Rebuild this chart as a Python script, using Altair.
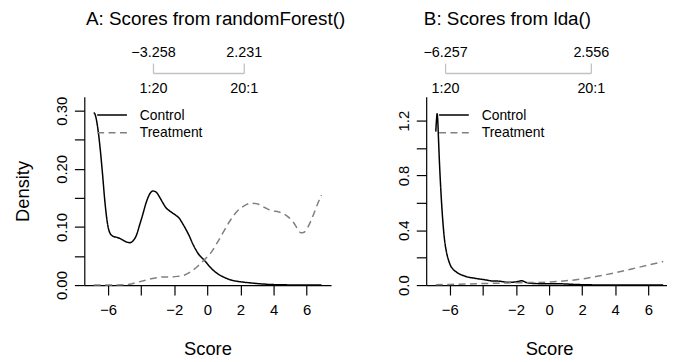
import altair as alt
import pandas as pd

FONT = "Liberation Sans, Arial, Helvetica, sans-serif"

# ---------------- data ----------------
groups = ["Control", "Treatment"]
titles = ["A: Scores from randomForest()", "B: Scores from lda()"]
x_ticks = [-6, -4, -2, 0, 2, 4, 6]
a_y_ticks = [0.0, 0.05, 0.10, 0.15, 0.20, 0.25, 0.30]
b_y_ticks = [0.0, 0.2, 0.4, 0.6, 0.8, 1.0, 1.2]

# Panel A: randomForest scores
a_ctrl_x = [-6.87, -6.78, -6.65, -6.50, -6.35, -6.20, -6.05, -5.90, -5.70, -5.45,
            -5.20, -4.95, -4.70, -4.50, -4.30, -4.10, -3.90, -3.70, -3.50, -3.30,
            -3.10, -2.90, -2.70, -2.50, -2.30, -2.10, -1.90, -1.70, -1.50, -1.30,
            -1.10, -0.90, -0.70, -0.50, -0.30, -0.10, 0.10, 0.30, 0.60, 0.90,
            1.30, 1.70, 2.20, 2.70, 3.30, 4.00, 5.00, 6.00, 6.90]
a_ctrl_y = [0.297, 0.293, 0.275, 0.240, 0.195, 0.145, 0.108, 0.090, 0.084, 0.082,
            0.079, 0.075, 0.073, 0.076, 0.085, 0.103, 0.122, 0.142, 0.156, 0.162,
            0.160, 0.152, 0.142, 0.133, 0.128, 0.124, 0.120, 0.115, 0.106, 0.096,
            0.085, 0.072, 0.061, 0.052, 0.046, 0.040, 0.033, 0.027, 0.020, 0.015,
            0.010, 0.007, 0.005, 0.0035, 0.002, 0.0008, 0.0003, 0.0001, 0.0]
a_trt_x = [-6.87, -5.80, -5.00, -4.60, -4.20, -3.80, -3.40, -3.00, -2.60, -2.20,
           -1.80, -1.40, -1.00, -0.60, -0.20, 0.20, 0.60, 1.00, 1.40, 1.80,
           2.20, 2.70, 3.10, 3.50, 3.90, 4.30, 4.60, 4.90, 5.20, 5.45,
           5.65, 5.85, 6.10, 6.40, 6.70, 6.90]
a_trt_y = [0.0, 0.0, 0.0005, 0.002, 0.005, 0.008, 0.011, 0.013, 0.014, 0.014,
           0.015, 0.017, 0.023, 0.032, 0.043, 0.055, 0.073, 0.093, 0.112, 0.127,
           0.136, 0.141, 0.139, 0.133, 0.128, 0.126, 0.123, 0.117, 0.108, 0.097,
           0.090, 0.091, 0.101, 0.120, 0.142, 0.155]

# Panel B: lda scores
b_ctrl_x = [-6.85, -6.81, -6.77, -6.73, -6.69, -6.63, -6.57, -6.50, -6.42, -6.33,
            -6.22, -6.10, -5.95, -5.80, -5.60, -5.40, -5.15, -4.90, -4.60, -4.30,
            -4.00, -3.70, -3.40, -3.10, -2.80, -2.50, -2.20, -1.90, -1.65, -1.45,
            -1.20, -0.80, -0.40, 0.00, 0.50, 1.00, 1.50, 2.00, 3.00, 4.50, 6.90]
b_ctrl_y = [1.12, 1.20, 1.25, 1.20, 1.08, 0.90, 0.75, 0.60, 0.46, 0.34,
            0.25, 0.19, 0.14, 0.115, 0.095, 0.080, 0.068, 0.058, 0.052, 0.046,
            0.041, 0.035, 0.029, 0.029, 0.025, 0.020, 0.021, 0.026, 0.032, 0.022,
            0.014, 0.011, 0.010, 0.010, 0.010, 0.008, 0.005, 0.003, 0.001, 0.0003, 0.0]
b_trt_x = [-6.85, -6.00, -5.00, -4.00, -3.00, -2.00, -1.00, 0.00, 1.00, 2.00,
           3.00, 4.00, 5.00, 6.00, 6.90]
b_trt_y = [0.002, 0.005, 0.008, 0.011, 0.014, 0.017, 0.019, 0.022, 0.031, 0.045,
           0.066, 0.090, 0.118, 0.146, 0.172]

# top brackets (score at 1:20 and 20:1 odds)
a_bracket_values = [-3.258, 2.231]
a_bracket_labels = ["\u22123.258", "2.231"]
b_bracket_values = [-6.257, 2.556]
b_bracket_labels = ["\u22126.257", "2.556"]
odds_labels = ["1:20", "20:1"]


def panel(cx, cy, tx, ty, br_vals, br_labels, title, title_x, xdom, ydom,
          yticks, ylabel_expr, width, ytitle, xtitle_x):
    height = 190
    curves = pd.DataFrame({
        "score": cx + tx,
        "density": cy + ty,
        "group": [groups[0]] * len(cx) + [groups[1]] * len(tx),
    })
    xs = alt.Scale(domain=xdom, nice=False, zero=False)
    ys = alt.Scale(domain=ydom, nice=False, zero=False)

    x_axis = alt.Axis(values=x_ticks,
                      labelExpr="datum.value == -4 ? '' : format(datum.value, 'd')",
                      title="Score", titleX=xtitle_x, titleY=70.5,
                      titleBaseline="alphabetic", titleAlign="center")
    y_kwargs = dict(values=yticks, labelExpr=ylabel_expr, labelAngle=270,
                    labelAlign="center", labelBaseline="alphabetic", labelPadding=8)
    if ytitle:
        y_axis = alt.Axis(title=ytitle, titleAngle=270, titleX=-56.5, titleY=height / 2,
                          titleAlign="center", titleBaseline="alphabetic", **y_kwargs)
    else:
        y_axis = alt.Axis(title=None, **y_kwargs)

    lines = alt.Chart(curves).mark_line(strokeWidth=1.5, interpolate="monotone").encode(
        x=alt.X("score:Q", scale=xs, axis=x_axis),
        y=alt.Y("density:Q", scale=ys, axis=y_axis),
        color=alt.Color("group:N", scale=alt.Scale(domain=groups, range=["#000000", "#808080"]), legend=None),
        strokeDash=alt.StrokeDash("group:N", scale=alt.Scale(domain=groups, range=[[1, 0], [7, 4.5]]), legend=None),
    )

    br = pd.DataFrame({"score": br_vals, "top": br_labels, "bottom": odds_labels})
    br_h = pd.DataFrame({"score": [br_vals[0]], "score2": [br_vals[1]]})
    gray = "#c2c2c2"
    hrule = alt.Chart(br_h).mark_rule(color=gray, strokeWidth=1.3).encode(
        x=alt.X("score:Q", scale=xs), x2="score2:Q", y=alt.value(-23.5))
    vrule = alt.Chart(br).mark_rule(color=gray, strokeWidth=1.3).encode(
        x=alt.X("score:Q", scale=xs), y=alt.value(-33.5), y2=alt.value(-23.5))
    top_txt = alt.Chart(br).mark_text(fontSize=14.5, baseline="alphabetic", align="center",
                                      color="black", font=FONT).encode(
        x=alt.X("score:Q", scale=xs), y=alt.value(-40.5), text="top:N")
    bot_txt = alt.Chart(br).mark_text(fontSize=14.5, baseline="alphabetic", align="center",
                                      color="black", font=FONT).encode(
        x=alt.X("score:Q", scale=xs), y=alt.value(-3.8), text="bottom:N")

    # legend (drawn in the plot's top-left corner)
    leg = pd.DataFrame({"group": groups})
    leg_layers = []
    for i, g in enumerate(groups):
        yy = 18.3 + 18 * i
        dash = [1, 0] if i == 0 else [7, 4.5]
        col = "#000000" if i == 0 else "#808080"
        leg_layers.append(
            alt.Chart(leg).transform_filter(alt.datum.group == g)
            .mark_rule(color=col, strokeWidth=1.5, strokeDash=dash)
            .encode(x=alt.value(13), x2=alt.value(43), y=alt.value(yy)))
        leg_layers.append(
            alt.Chart(leg).transform_filter(alt.datum.group == g)
            .mark_text(fontSize=14, align="left", baseline="middle", color="black", font=FONT)
            .encode(x=alt.value(56), y=alt.value(yy + 0.7), text="group:N"))

    ttl = alt.Chart(pd.DataFrame({"t": [title]})).mark_text(
        fontSize=19, align="center", baseline="alphabetic", color="black", font=FONT
    ).encode(x=alt.value(title_x), y=alt.value(-72), text="t:N")

    return alt.layer(lines, hrule, vrule, top_txt, bot_txt, *leg_layers, ttl).properties(
        width=width, height=height)


pa = panel(a_ctrl_x, a_ctrl_y, a_trt_x, a_trt_y, a_bracket_values, a_bracket_labels,
           titles[0], 132.5, [-7.44, 7.48], [0, 0.324], a_y_ticks,
           "round(datum.value*100) % 10 === 0 ? format(datum.value, '.2f') : ''",
           249, "Density", 124.3)
pb = panel(b_ctrl_x, b_ctrl_y, b_trt_x, b_trt_y, b_bracket_values, b_bracket_labels,
           titles[1], 82, [-7.43, 7.13], [0, 1.374], b_y_ticks,
           "round(datum.value*10) % 4 === 0 ? format(datum.value, '.1f') : ''",
           243, None, 124)

chart = alt.hconcat(pa, pb, spacing=96, bounds="flush").properties(
    padding={"left": 5, "top": 1, "right": 0, "bottom": 0}
).configure(font=FONT, background="white").configure_view(
    stroke=None
).configure_axis(
    grid=False, domainColor="black", domainWidth=1.2, tickColor="black", tickWidth=1.2,
    tickSize=10, labelFontSize=15, labelColor="black", labelFont=FONT, labelOverlap=False,
    labelFlush=False, titleFontSize=18.5, titleFontWeight="normal", titleColor="black",
    titleFont=FONT
).configure_axisX(labelPadding=8)

chart.save("out.html", embed_options={"renderer": "svg", "actions": False})
